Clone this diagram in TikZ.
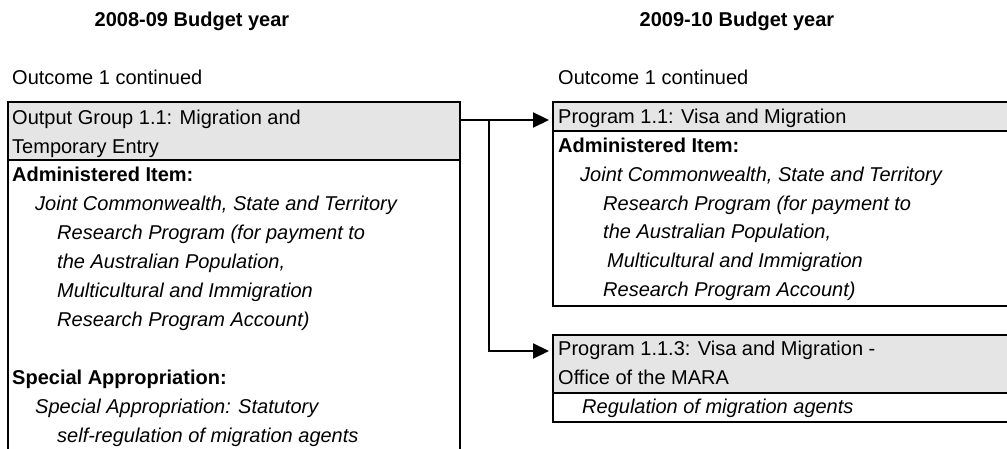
\documentclass[tikz,border=0pt]{standalone}
\usepackage{fontspec}
\setmainfont{Liberation Sans}
\usetikzlibrary{arrows.meta}
\begin{document}
\begin{tikzpicture}[x=1pt, y=-1pt,
	box/.style={draw, line width=1.3pt, anchor=north west, inner sep=0pt, outer sep=0pt},
	hdr/.style={box, fill=black!10},
	txt/.style={anchor=north west, inner sep=0pt, align=left, font=\fontsize{20}{28.9}\selectfont},
	lbl/.style={anchor=base west, inner sep=0pt, font=\fontsize{20}{24}\selectfont},
	link/.style={line width=2.2pt, -{Triangle[length=16pt, width=15pt]}, shorten >=4pt}]
	\useasboundingbox (0, 0) rectangle (1007, 449);
	\clip (0, 0) rectangle (1007, 449);

	\node[lbl, anchor=base, font=\fontsize{20}{24}\selectfont\bfseries] (ya) at (192, 27) {2008-09 Budget year};
	\node[lbl, anchor=base, font=\fontsize{20}{24}\selectfont\bfseries] (yb) at (737, 27) {2009-10 Budget year};
	\node[lbl] (oa) at (12, 85) {Outcome 1 continued};
	\node[lbl] (ob) at (558, 85) {Outcome 1 continued};

	\node[hdr, minimum width=452pt, minimum height=58pt] (g) at (8, 102) {};
	\node[box, minimum width=452pt, minimum height=300pt] (gb) at (g.south west) {};
	\node[hdr, minimum width=460pt, minimum height=29pt] (p) at (553, 102) {};
	\node[box, minimum width=460pt, minimum height=175pt] (pb) at (p.south west) {};
	\node[hdr, minimum width=460pt, minimum height=58pt] (m) at (553, 335) {};
	\node[box, minimum width=460pt, minimum height=29pt] (mb) at (m.south west) {};

	\node[txt] (gt) at (12, 109.5) {Output Group 1.1: Migration and\\
		Temporary Entry\\
		\textbf{Administered Item:}\\
		\hspace*{23pt}\textit{Joint Commonwealth, State and Territory}\\
		\hspace*{45pt}\textit{Research Program (for payment to}\\
		\hspace*{45pt}\textit{the Australian Population,}\\
		\hspace*{45pt}\textit{Multicultural and Immigration}\\
		\hspace*{45pt}\textit{Research Program Account)}\\
		\mbox{}\\
		\textbf{Special Appropriation:}\\
		\hspace*{23pt}\textit{Special Appropriation: Statutory}\\
		\hspace*{45pt}\textit{self-regulation of migration agents}};
	\node[txt] (pt) at (558, 108.7) {Program 1.1: Visa and Migration\\
		\textbf{Administered Item:}\\
		\hspace*{22pt}\textit{Joint Commonwealth, State and Territory}\\
		\hspace*{45pt}\textit{Research Program (for payment to}\\
		\hspace*{45pt}\textit{the Australian Population,}\\
		\hspace*{49pt}\textit{Multicultural and Immigration}\\
		\hspace*{45pt}\textit{Research Program Account)}};
	\node[txt] (mt) at (558, 340.7) {Program 1.1.3: Visa and Migration -\\
		Office of the MARA\\
		\hspace*{24pt}\textit{Regulation of migration agents}};

	\coordinate (split) at (489, 120);
	\coordinate (turn) at (489, 351);
	\draw[link] (g.east |- split) -- (split -| p.west);
	\draw[link] (split) -- (turn) -- (turn -| m.west);
\end{tikzpicture}
\end{document}
